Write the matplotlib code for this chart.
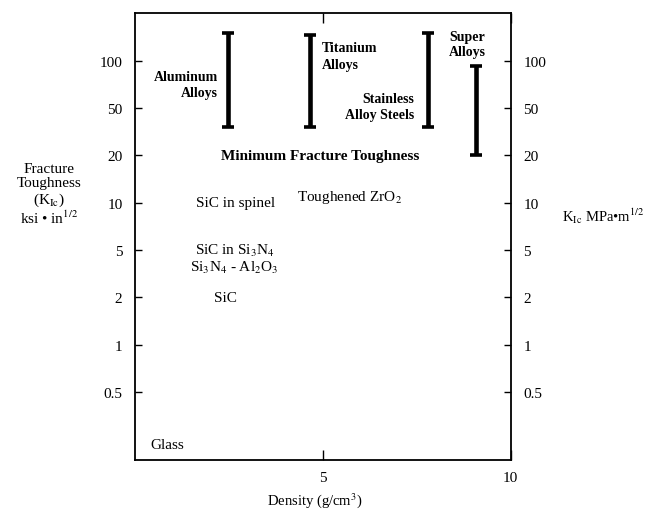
"""
Fracture toughness vs density chart.
"""

import numpy as np
import matplotlib
matplotlib.use("Agg")
import matplotlib.pyplot as plt

plt.rcParams['font.family'] = ['Liberation Serif', 'DejaVu Serif']
plt.rcParams['mathtext.fontset'] = 'stix'

# tick values on the toughness axis (drawn evenly spaced in the original)
tough_ticks = [0.5, 1, 2, 5, 10, 20, 50, 100]
dens_ticks = [5, 10]

# metal alloys: density, toughness range (ksi*in^1/2)
alloys = ['Aluminum\nAlloys', 'Titanium\nAlloys', 'Stainless\nAlloy Steels', 'Super\nAlloys']
alloy_density = [2.47, 4.65, 7.8, 9.07]
alloy_low = [35, 35, 35, 20]
alloy_high = [150, 146, 150, 92]

# ceramics: label, density, toughness
ceramics = ['SiC in spinel', r'SiC in Si$_3$N$_4$', r'Si$_3$N$_4$ - Al$_2$O$_3$', 'SiC',
            r'Toughened ZrO$_2$', 'Glass']
ceramic_density = [2.68, 2.66, 2.63, 2.42, 5.72, 0.4]
ceramic_tough = [10, 5, 3.6, 2, 11, 0.23]

min_tough = 20

lt = np.log10(tough_ticks)
idx = np.arange(len(tough_ticks))


def fwd(v):
    l = np.log10(np.clip(np.asarray(v, float), 1e-9, None))
    out = np.interp(l, lt, idx)
    out = np.where(l < lt[0], (l - lt[0]) / (lt[1] - lt[0]), out)
    out = np.where(l > lt[-1], idx[-1] + (l - lt[-1]) / (lt[-1] - lt[-2]), out)
    return out


def inv(y):
    y = np.asarray(y, float)
    l = np.interp(y, idx, lt)
    l = np.where(y < 0, lt[0] + y * (lt[1] - lt[0]), l)
    l = np.where(y > idx[-1], lt[-1] + (y - idx[-1]) * (lt[-1] - lt[-2]), l)
    return 10 ** l


fig = plt.figure(figsize=(6.49, 5.10), dpi=100)
ax = fig.add_axes([0.208, 0.096, 0.579, 0.8765])
ax.set_yscale('function', functions=(fwd, inv))
ax.set_xlim(0, 10)
ax.set_ylim(inv(-1.44), inv(8.01))

mid = [(lo + hi) / 2 for lo, hi in zip(alloy_low, alloy_high)]
yerr = [[m - lo for m, lo in zip(mid, alloy_low)], [hi - m for m, hi in zip(mid, alloy_high)]]
ax.errorbar(alloy_density, mid, yerr=yerr, fmt='none', ecolor='black',
            elinewidth=3.3, capsize=4.6, capthick=2.6)

# alloy labels
ax.text(2.2, 71, alloys[0], ha='right', va='center', fontsize=10, fontweight='bold',
        linespacing=1.3)
ax.text(4.97, 107, alloys[1], ha='left', va='center', fontsize=10, fontweight='bold',
        linespacing=1.4)
ax.text(7.42, 51, alloys[2], ha='right', va='center', fontsize=10, fontweight='bold',
        linespacing=1.3)
ax.text(8.85, 128, alloys[3], ha='center', va='center', fontsize=10, fontweight='bold',
        linespacing=1.25)

ax.text(4.92, min_tough, 'Minimum Fracture Toughness', ha='center', va='center',
        fontsize=11, fontweight='bold')

for name, d, k in zip(ceramics, ceramic_density, ceramic_tough):
    ha = 'left' if name == 'Glass' else 'center'
    ax.text(d, k, name, ha=ha, va='center', fontsize=11)

ax.set_yticks(tough_ticks)
ax.set_yticklabels([str(t) for t in tough_ticks])
ax.minorticks_off()
ax.set_xticks(dens_ticks)
ax.set_xticklabels([str(t) for t in dens_ticks])
ax.tick_params(axis='y', direction='in', length=5, width=1, left=True, right=True,
               labelleft=True, labelright=True, labelsize=11, pad=9)
ax.tick_params(axis='x', direction='in', length=7, width=1, top=True,
               labelsize=11, pad=8)
for sp in ax.spines.values():
    sp.set_linewidth(1.3)

ax.set_xlabel('Density (g/cm$^3$)', fontsize=10.5)
ax.xaxis.label.set_verticalalignment('center')
ax.xaxis.set_label_coords(0.479, -0.088)

fig.text(0.075, 0.617, 'Fracture\nToughness\n(K$_{\\mathrm{Ic}}$)\nksi \u2022 in$^{1/2}$',
         ha='center', va='center', fontsize=11, linespacing=1.1)
fig.text(0.866, 0.576, 'K$_{\\mathrm{Ic}}$ MPa\u2022m$^{1/2}$', ha='left', va='center',
         fontsize=10.5)

fig.savefig('out.png', dpi=100)
